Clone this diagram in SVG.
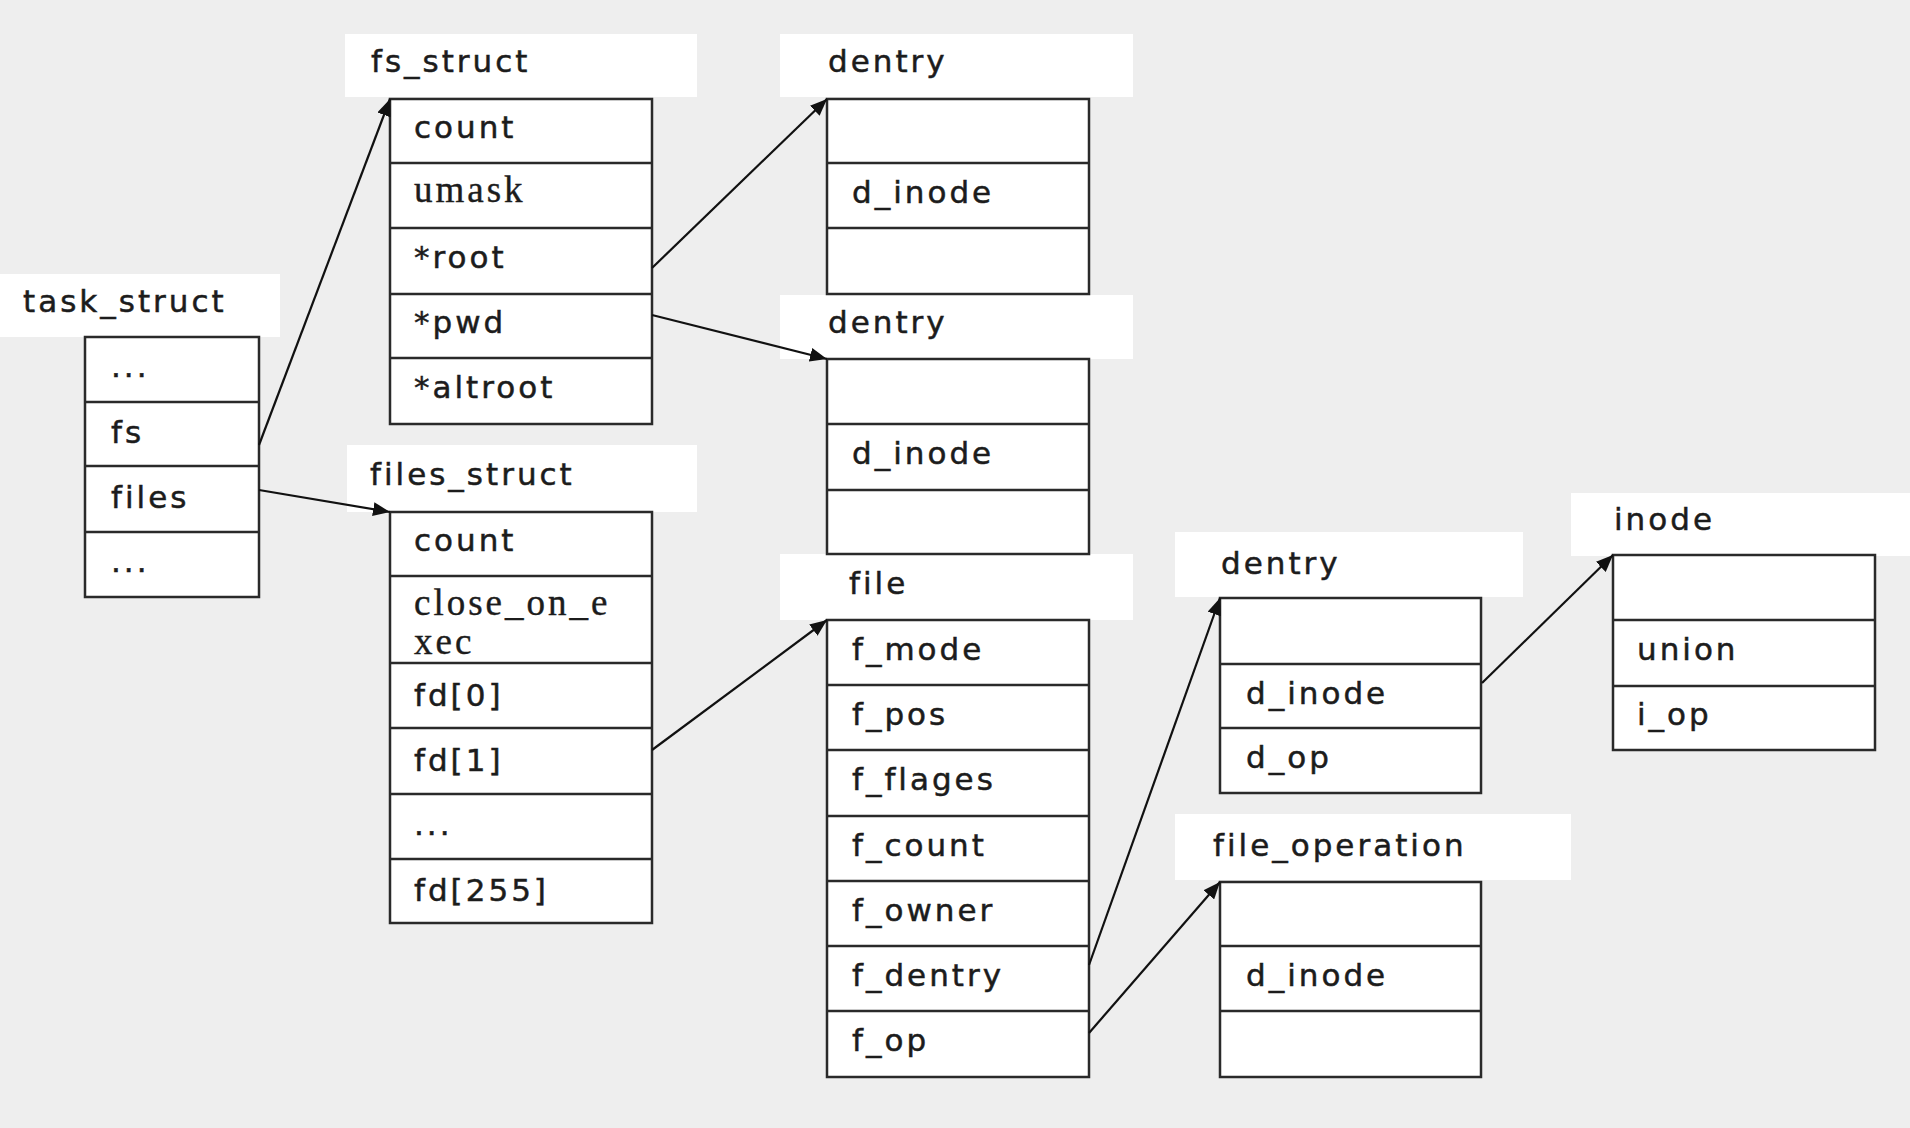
<svg xmlns="http://www.w3.org/2000/svg" width="1910" height="1128" viewBox="0 0 1910 1128">
<defs>
<marker id="ah" markerUnits="userSpaceOnUse" markerWidth="20" markerHeight="14" refX="17" refY="7" orient="auto">
<path d="M0,0 L17,7 L0,14 Z" fill="#111"/>
</marker>
</defs>
<style>
.bg{fill:#eeeeee}
.lb{fill:#ffffff}
.box{fill:#ffffff;stroke:#2a2a2a;stroke-width:2.5}
.sep{stroke:#2a2a2a;stroke-width:2.5}
.t{font-family:"DejaVu Sans",sans-serif;font-size:31px;letter-spacing:3px;fill:#1c1c1c;stroke:#1c1c1c;stroke-width:0.5}
.s{font-family:"Liberation Serif",serif;font-size:37px;letter-spacing:3px;fill:#1c1c1c;stroke:#1c1c1c;stroke-width:0.4}
.c{stroke:#111;stroke-width:2.2;fill:none;marker-end:url(#ah)}
</style>
<rect class="bg" x="0" y="0" width="1910" height="1128"/>
<g id="labels-bg">
<rect class="lb" x="345" y="34" width="352" height="63"/>
<rect class="lb" x="780" y="34" width="353" height="63"/>
<rect class="lb" x="0" y="274" width="280" height="63"/>
<rect class="lb" x="347" y="445" width="350" height="67"/>
<rect class="lb" x="780" y="295" width="353" height="64"/>
<rect class="lb" x="780" y="554" width="353" height="66"/>
<rect class="lb" x="1175" y="532" width="348" height="65"/>
<rect class="lb" x="1175" y="814" width="396" height="66"/>
<rect class="lb" x="1571" y="493" width="339" height="63"/>
</g>
<g id="task_struct">
<text class="t" x="23" y="312">task_struct</text>
<rect class="box" x="85" y="337" width="174" height="260"/>
<line class="sep" x1="85" y1="402" x2="259" y2="402"/>
<line class="sep" x1="85" y1="466" x2="259" y2="466"/>
<line class="sep" x1="85" y1="532" x2="259" y2="532"/>
<text class="t" x="111" y="377">...</text>
<text class="t" x="111" y="443">fs</text>
<text class="t" x="111" y="508">files</text>
<text class="t" x="111" y="572">...</text>
</g>
<g id="fs_struct">
<text class="t" x="371" y="72">fs_struct</text>
<rect class="box" x="390" y="99" width="262" height="325"/>
<line class="sep" x1="390" y1="163" x2="652" y2="163"/>
<line class="sep" x1="390" y1="228" x2="652" y2="228"/>
<line class="sep" x1="390" y1="294" x2="652" y2="294"/>
<line class="sep" x1="390" y1="358" x2="652" y2="358"/>
<text class="t" x="414" y="138">count</text>
<text class="s" x="414" y="202">umask</text>
<text class="t" x="414" y="268">*root</text>
<text class="t" x="414" y="333">*pwd</text>
<text class="t" x="414" y="398">*altroot</text>
</g>
<g id="files_struct">
<text class="t" x="370" y="485">files_struct</text>
<rect class="box" x="390" y="512" width="262" height="411"/>
<line class="sep" x1="390" y1="576" x2="652" y2="576"/>
<line class="sep" x1="390" y1="663" x2="652" y2="663"/>
<line class="sep" x1="390" y1="728" x2="652" y2="728"/>
<line class="sep" x1="390" y1="794" x2="652" y2="794"/>
<line class="sep" x1="390" y1="859" x2="652" y2="859"/>
<text class="t" x="414" y="551">count</text>
<text class="s" x="414" y="615">close_on_e</text>
<text class="s" x="414" y="654">xec</text>
<text class="t" x="414" y="706">fd[0]</text>
<text class="t" x="414" y="771">fd[1]</text>
<text class="t" x="414" y="835">...</text>
<text class="t" x="414" y="901">fd[255]</text>
</g>
<g id="dentry1">
<text class="t" x="828" y="72">dentry</text>
<rect class="box" x="827" y="99" width="262" height="195"/>
<line class="sep" x1="827" y1="163" x2="1089" y2="163"/>
<line class="sep" x1="827" y1="228" x2="1089" y2="228"/>
<text class="t" x="852" y="203">d_inode</text>
</g>
<g id="dentry2">
<text class="t" x="828" y="333">dentry</text>
<rect class="box" x="827" y="359" width="262" height="195"/>
<line class="sep" x1="827" y1="424" x2="1089" y2="424"/>
<line class="sep" x1="827" y1="490" x2="1089" y2="490"/>
<text class="t" x="852" y="464">d_inode</text>
</g>
<g id="file">
<text class="t" x="849" y="594">file</text>
<rect class="box" x="827" y="620" width="262" height="457"/>
<line class="sep" x1="827" y1="685" x2="1089" y2="685"/>
<line class="sep" x1="827" y1="750" x2="1089" y2="750"/>
<line class="sep" x1="827" y1="816" x2="1089" y2="816"/>
<line class="sep" x1="827" y1="881" x2="1089" y2="881"/>
<line class="sep" x1="827" y1="946" x2="1089" y2="946"/>
<line class="sep" x1="827" y1="1011" x2="1089" y2="1011"/>
<text class="t" x="852" y="660">f_mode</text>
<text class="t" x="852" y="725">f_pos</text>
<text class="t" x="852" y="790">f_flages</text>
<text class="t" x="852" y="856">f_count</text>
<text class="t" x="852" y="921">f_owner</text>
<text class="t" x="852" y="986">f_dentry</text>
<text class="t" x="852" y="1051">f_op</text>
</g>
<g id="dentry3">
<text class="t" x="1221" y="574">dentry</text>
<rect class="box" x="1220" y="598" width="261" height="195"/>
<line class="sep" x1="1220" y1="664" x2="1481" y2="664"/>
<line class="sep" x1="1220" y1="728" x2="1481" y2="728"/>
<text class="t" x="1246" y="704">d_inode</text>
<text class="t" x="1246" y="768">d_op</text>
</g>
<g id="file_operation">
<text class="t" x="1213" y="856">file_operation</text>
<rect class="box" x="1220" y="882" width="261" height="195"/>
<line class="sep" x1="1220" y1="946" x2="1481" y2="946"/>
<line class="sep" x1="1220" y1="1011" x2="1481" y2="1011"/>
<text class="t" x="1246" y="986">d_inode</text>
</g>
<g id="inode">
<text class="t" x="1614" y="530">inode</text>
<rect class="box" x="1613" y="555" width="262" height="195"/>
<line class="sep" x1="1613" y1="620" x2="1875" y2="620"/>
<line class="sep" x1="1613" y1="686" x2="1875" y2="686"/>
<text class="t" x="1637" y="660">union</text>
<text class="t" x="1637" y="725">i_op</text>
</g>
<g id="connectors">
<line class="c" x1="259" y1="445" x2="390" y2="99"/>
<line class="c" x1="259" y1="490" x2="390" y2="512"/>
<line class="c" x1="652" y1="268" x2="827" y2="99"/>
<line class="c" x1="652" y1="315" x2="827" y2="359"/>
<line class="c" x1="652" y1="750" x2="827" y2="620"/>
<line class="c" x1="1089" y1="965" x2="1220" y2="598"/>
<line class="c" x1="1089" y1="1033" x2="1220" y2="882"/>
<line class="c" x1="1482" y1="683" x2="1613" y2="555"/>
</g>
</svg>
